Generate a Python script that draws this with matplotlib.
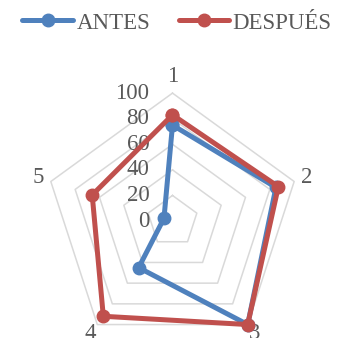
import numpy as np
import matplotlib
matplotlib.use("Agg")
import matplotlib.pyplot as plt
from matplotlib.lines import Line2D
from matplotlib.transforms import offset_copy

# radar data
categories = ["1", "2", "3", "4", "5"]
antes = [75, 85, 100, 45, 7]
despues = [83, 87, 100, 92, 66]
grid_levels = [20, 40, 60, 80, 100]
tick_labels = ["0", "20", "40", "60", "80", "100"]

BLUE = "#4F81BD"
RED = "#C0504D"
GRID = "#D9D9D9"
TEXT = "#595959"

plt.rcParams["font.family"] = ["Liberation Serif", "DejaVu Serif"]
FS = 16.5

fig = plt.figure(figsize=(3.41, 3.38), dpi=100)
ax = fig.add_axes([0.1305, -0.0325, 0.7507, 0.757], projection="polar")
ax.set_theta_zero_location("N")
ax.set_theta_direction(-1)
ax.set_ylim(0, 100)
ax.grid(False)
ax.spines["polar"].set_visible(False)
ax.patch.set_visible(False)
ax.set_xticks([])
ax.set_yticks([])

angles = np.linspace(0, 2 * np.pi, len(categories), endpoint=False)
closed = np.append(angles, angles[0])

# pentagon gridlines
for lvl in grid_levels:
    ax.plot(closed, [lvl] * len(closed), color=GRID, lw=1.1, zorder=1, clip_on=False)

# value labels along the first spoke
lab_tr = offset_copy(ax.transData, fig=fig, x=-23, y=0, units="dots")
for i, t in enumerate(tick_labels):
    ax.text(0, i * 20, t, transform=lab_tr, ha="right", va="center",
            fontsize=FS, color=TEXT)

# category labels
label_r = [113, 110, 109, 109, 110]
for a, c, r in zip(angles, categories, label_r):
    ax.text(a, r, c, ha="center", va="center", fontsize=FS, color=TEXT, clip_on=False)

for vals, col in [(antes, BLUE), (despues, RED)]:
    ax.plot(closed, vals + vals[:1], color=col, lw=3.6, marker="o",
            markersize=9, zorder=3, clip_on=False, solid_joinstyle="round")

handles = [
    Line2D([], [], color=BLUE, lw=3.6, marker="o", markersize=9, solid_capstyle="round"),
    Line2D([], [], color=RED, lw=3.6, marker="o", markersize=9, solid_capstyle="round"),
]
leg = fig.legend(handles, ["ANTES", "DESPUÉS"], loc="center", ncol=2,
                 bbox_to_anchor=(177 / 341, 1 - 23 / 338), frameon=False,
                 fontsize=FS, handlelength=2.2, handletextpad=0.15,
                 columnspacing=1.25, borderpad=0)
for t in leg.get_texts():
    t.set_color(TEXT)

fig.savefig("out.png", dpi=100)
